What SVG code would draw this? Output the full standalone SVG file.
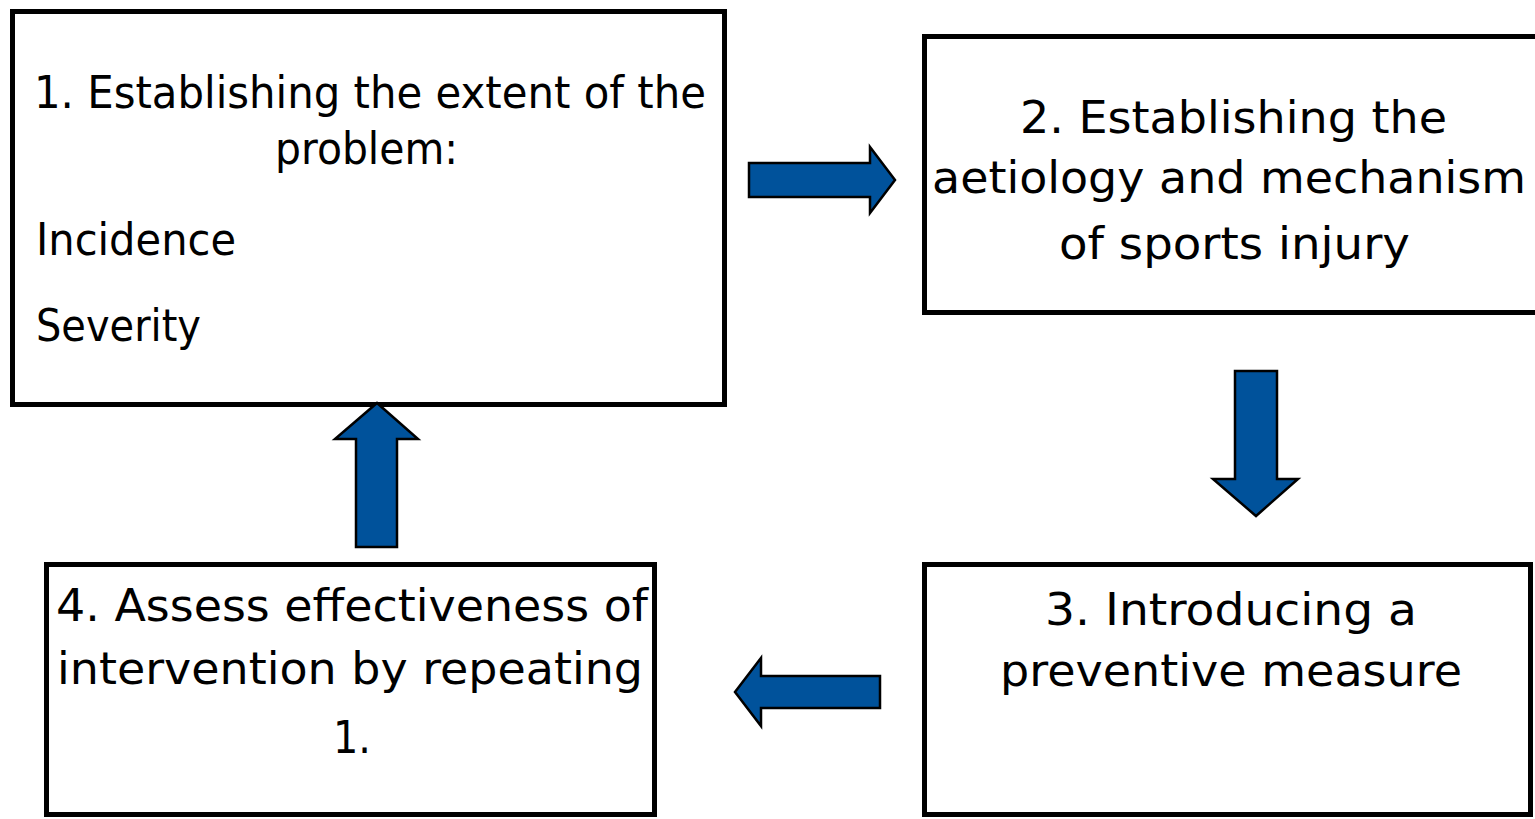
<svg xmlns="http://www.w3.org/2000/svg" width="1535" height="819" viewBox="0 0 1535 819">
<style>
.box{fill:#fff;stroke:#000;stroke-width:5}
.t{font-family:"DejaVu Sans",Verdana,sans-serif;font-size:45px;fill:#000}
.arr{fill:#00529B;stroke:#000;stroke-width:2.5;stroke-linejoin:miter}
</style>
<rect width="1535" height="819" fill="#fff"/>
<g id="node1">
<rect class="box" x="12.5" y="11.5" width="712" height="393"/>
<text class="t" x="34" y="108" textLength="672" lengthAdjust="spacingAndGlyphs">1. Establishing the extent of the</text>
<text class="t" x="275" y="164" textLength="183" lengthAdjust="spacingAndGlyphs">problem:</text>
<text class="t" x="36" y="255" textLength="200" lengthAdjust="spacingAndGlyphs">Incidence</text>
<text class="t" x="36" y="341" textLength="165" lengthAdjust="spacingAndGlyphs">Severity</text>
</g>
<g id="node2">
<rect class="box" x="924.5" y="36.5" width="620" height="276"/>
<text class="t" x="1020" y="133" textLength="427" lengthAdjust="spacingAndGlyphs">2. Establishing the</text>
<text class="t" x="932" y="193" textLength="594" lengthAdjust="spacingAndGlyphs">aetiology and mechanism</text>
<text class="t" x="1059" y="259" textLength="351" lengthAdjust="spacingAndGlyphs">of sports injury</text>
</g>
<g id="node3">
<rect class="box" x="924.5" y="564.5" width="606" height="250"/>
<text class="t" x="1045" y="625" textLength="372" lengthAdjust="spacingAndGlyphs">3. Introducing a</text>
<text class="t" x="1000" y="686" textLength="462" lengthAdjust="spacingAndGlyphs">preventive measure</text>
</g>
<g id="node4">
<rect class="box" x="46.5" y="564.5" width="608" height="250"/>
<text class="t" x="56" y="621" textLength="592" lengthAdjust="spacingAndGlyphs">4. Assess effectiveness of</text>
<text class="t" x="57" y="684" textLength="586" lengthAdjust="spacingAndGlyphs">intervention by repeating</text>
<text class="t" x="333" y="753" textLength="38" lengthAdjust="spacingAndGlyphs">1.</text>
</g>
<g id="connectors">
<polygon class="arr" points="749,163 870,163 870,147 895,180 870,213 870,197 749,197"/>
<polygon class="arr" points="1235,371 1277,371 1277,479 1298,479 1256,516 1213,479 1235,479"/>
<polygon class="arr" points="880,676 761,676 761,658 735,692 761,726 761,708 880,708"/>
<polygon class="arr" points="356,547 356,439 335,439 377,403 418,439 397,439 397,547"/>
</g>
</svg>
